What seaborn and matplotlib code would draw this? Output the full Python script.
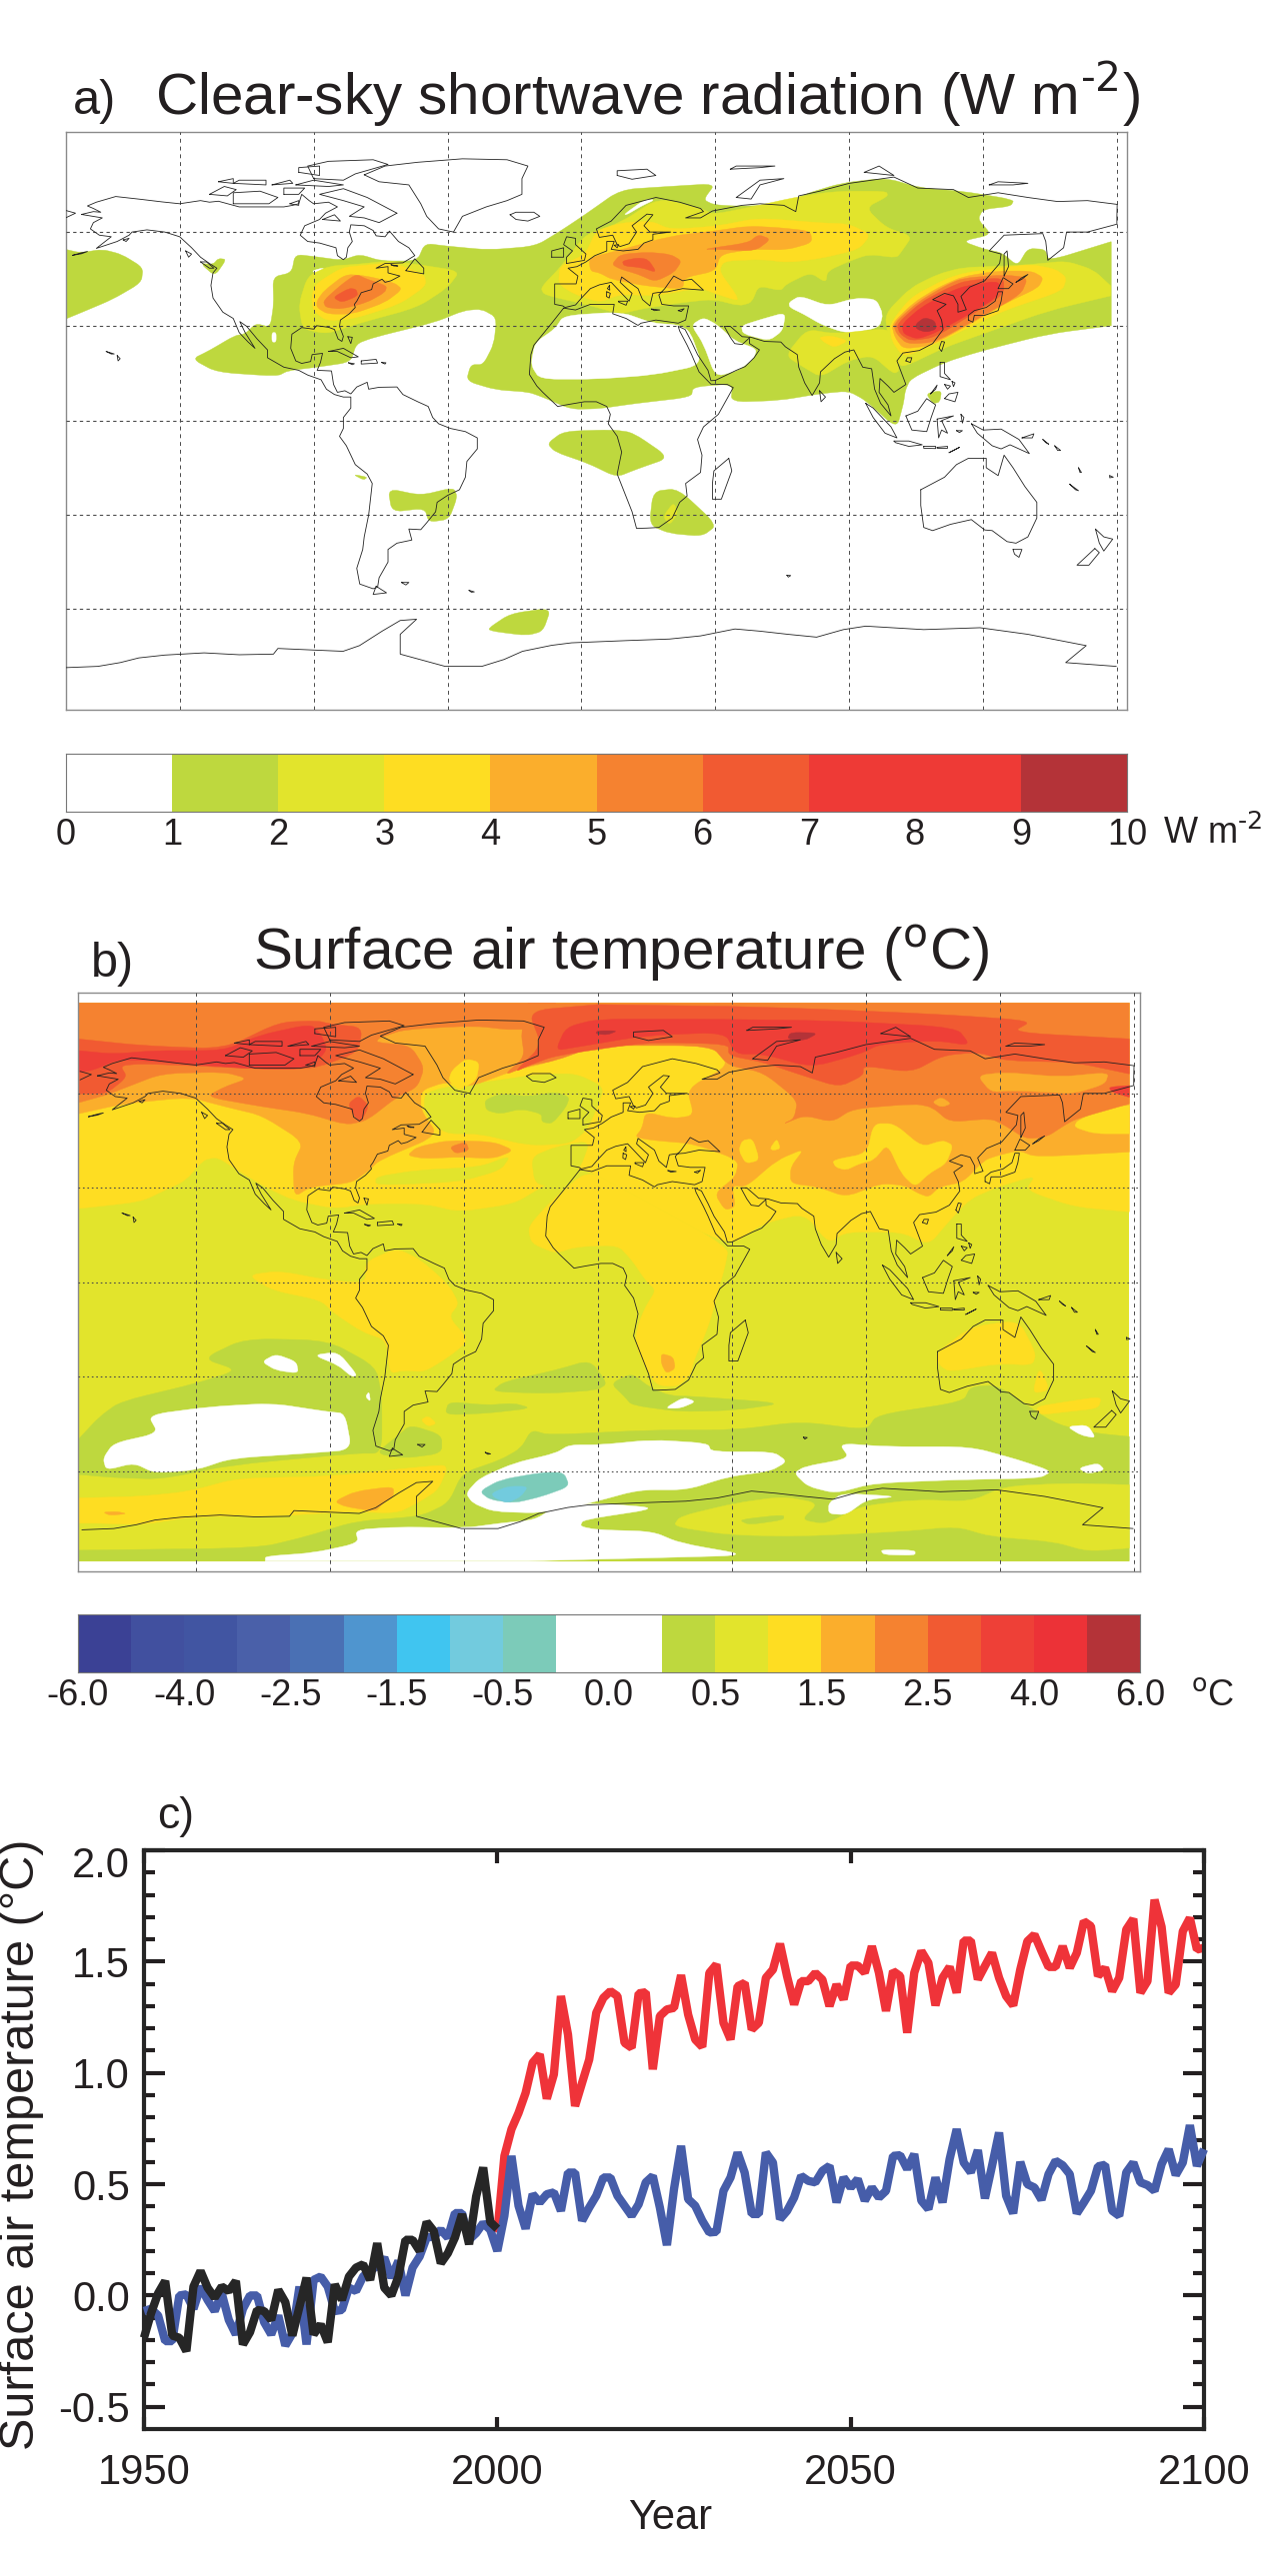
import numpy as np
import matplotlib
matplotlib.use("Agg")
import matplotlib.pyplot as plt
import seaborn as sns
from matplotlib.colors import ListedColormap
from matplotlib.patches import PathPatch
from matplotlib.path import Path
from matplotlib.transforms import ScaledTranslation

# colour bars
SW_COLORS = ["#FFFFFF", "#BED83E", "#E2E42C", "#FEDD22", "#FBAE2C", "#F58230", "#F15A32", "#EE3A36", "#EE3A36", "#B43338"]
SW_TICKS = ["0", "1", "2", "3", "4", "5", "6", "7", "8", "9", "10"]
T_COLORS = ["#3B4195", "#41509F", "#4155A2", "#4A60A9", "#4A70B4", "#4F95CF", "#40C5F0", "#72CBDE", "#7CCBB9", "#FFFFFF",
            "#FFFFFF", "#BED83E", "#E2E42C", "#FEDD22", "#FBAE2C", "#F58230", "#F15A32", "#EE4037", "#EC3237", "#B43338"]
T_TICKS = ["-6.0", "", "-4.0", "", "-2.5", "", "-1.5", "", "-0.5", "", "0.0", "", "0.5", "", "1.5", "", "2.5", "", "4.0", "", "6.0"]

# time series
YEARS = list(range(1950, 2101))
BLACK = [-0.19, -0.08, 0.01, 0.065, -0.18, -0.19, -0.25, 0.04, 0.11, 0.035, -0.01, 0.04, 0.02, 0.065, -0.22, -0.165, -0.065,
         -0.07, -0.11, 0.025, -0.03, -0.18, -0.05, 0.08, -0.175, -0.13, -0.21, 0.05, -0.02, 0.085, 0.125, 0.14, 0.07, 0.235,
         0.035, 0.0, 0.085, 0.25, 0.25, 0.2, 0.33, 0.29, 0.145, 0.19, 0.26, 0.365, 0.23, 0.445, 0.575, 0.33, 0.3]
BLUE = [-0.07, -0.06, -0.09, -0.205, -0.205, 0.0, 0.005, -0.06, 0.04, -0.02, -0.07, 0.01, -0.11, -0.175, -0.06, 0.0, 0.0,
        -0.12, -0.175, -0.09, -0.225, -0.17, 0.04, -0.22, 0.07, 0.085, 0.04, -0.07, -0.065, 0.035, 0.02, 0.085, 0.115, 0.13,
        0.17, 0.08, 0.155, 0.0, 0.125, 0.175, 0.26, 0.265, 0.295, 0.26, 0.37, 0.37, 0.25, 0.28, 0.325, 0.295, 0.2,
        0.358, 0.627, 0.403, 0.30, 0.455, 0.418, 0.455, 0.463, 0.38, 0.552, 0.552, 0.336, 0.395, 0.448, 0.53, 0.53, 0.448,
        0.403, 0.358, 0.41, 0.508, 0.537, 0.395, 0.226, 0.478, 0.672, 0.433, 0.403, 0.336, 0.283, 0.286, 0.47, 0.53, 0.642,
        0.552, 0.366, 0.366, 0.642, 0.597, 0.343, 0.38, 0.44, 0.537, 0.515, 0.508, 0.56, 0.582, 0.418, 0.53,
        0.485, 0.523, 0.426, 0.485, 0.44, 0.47, 0.627, 0.63, 0.568, 0.635, 0.426, 0.388, 0.53, 0.418, 0.612, 0.747, 0.597,
        0.553, 0.653, 0.436, 0.582, 0.732, 0.448, 0.369, 0.60, 0.50, 0.485, 0.43, 0.545, 0.605, 0.585, 0.545, 0.369, 0.418,
        0.47, 0.58, 0.587, 0.381, 0.358, 0.553, 0.597, 0.508, 0.496, 0.47, 0.59, 0.657, 0.541, 0.597, 0.765, 0.582, 0.657]
RED = [0.283, 0.627, 0.747, 0.82, 0.91, 1.046, 1.083, 0.884, 0.993, 1.345, 1.172, 0.851, 0.956, 1.06, 1.27, 1.337, 1.367,
       1.345, 1.135, 1.113, 1.357, 1.362, 1.016, 1.255, 1.285, 1.292, 1.439, 1.262, 1.15, 1.117, 1.449, 1.487, 1.225, 1.15,
       1.389, 1.404, 1.195, 1.225, 1.427, 1.464, 1.58, 1.434, 1.307, 1.412, 1.412, 1.449, 1.419, 1.30, 1.397, 1.33,
       1.482, 1.482, 1.45, 1.569, 1.45, 1.278, 1.457, 1.435, 1.18, 1.45, 1.547, 1.494, 1.303, 1.427, 1.476, 1.36, 1.594,
       1.594, 1.42, 1.48, 1.539, 1.427, 1.345, 1.303, 1.464, 1.591, 1.621, 1.547, 1.476, 1.476, 1.569, 1.472, 1.539, 1.681,
       1.659, 1.435, 1.472, 1.367, 1.427, 1.644, 1.692, 1.36, 1.412, 1.778, 1.656, 1.36, 1.397, 1.636, 1.696, 1.554, 1.562]

# coastlines, lon/lat
COAST_AMERICAS = [(-168, 65.6), (-164, 66.5), (-161.5, 66.3), (-164, 67.5), (-166, 68.3), (-163, 69.5), (-156.5, 71.3), (-148, 70.4), (-141, 69.6), (-135, 69), (-128, 70),
    (-125, 69.5), (-122, 69.8), (-115, 68), (-108, 68), (-100, 68), (-97, 68.5), (-95, 69), (-94, 72), (-91.5, 70), (-90, 69), (-85, 69.5), (-82, 68), (-86, 66), (-88, 64),
    (-93, 62), (-94.5, 59), (-92, 57), (-88, 56.5), (-82.5, 55), (-82, 52.5), (-80, 51.2), (-79, 52), (-78.5, 55), (-77, 57), (-78, 60),
    (-77.5, 62.3), (-73, 62), (-70, 60.5), (-69, 58.8), (-66, 58.5), (-64.5, 60.3), (-61.5, 57), (-58, 55), (-56, 52.5), (-60, 50.2),
    (-66, 50), (-69, 48.5), (-65, 49), (-65, 47), (-61, 46), (-64, 44.5), (-66, 44), (-67, 45), (-70, 43.5), (-70.5, 41.7), (-74, 40.7),
    (-75.5, 38), (-76.3, 37), (-76, 36), (-78, 34), (-81, 32), (-81.3, 30), (-80, 26.8), (-80.5, 25.2), (-81.8, 26), (-83, 29), (-85, 29.7),
    (-89, 30.2), (-90, 29.1), (-94, 29.6), (-97.3, 27.5), (-97.7, 23), (-96, 19), (-94, 18.2), (-91, 18.8), (-90.5, 21), (-87, 21.4),
    (-87.7, 18.5), (-88.8, 16), (-84, 15.8), (-83.3, 11.5), (-82, 9), (-79.5, 9.5), (-77.5, 8.5), (-75.5, 10.7), (-72, 12.2), (-71.5, 10), (-68, 10.6),
    (-62, 10.7), (-60, 8.3), (-55, 6), (-51.5, 4.5), (-50, 1), (-48, -1), (-44, -2.5), (-39, -3.5), (-35, -5.5), (-35, -9), (-38.5, -13), (-39, -18),
    (-41, -22), (-45, -23.8), (-48.5, -26), (-49, -29), (-52, -32.5), (-54, -34.7), (-58, -34.5), (-57, -38), (-62, -39), (-65, -41),
    (-65, -45), (-68, -50), (-68.5, -53), (-70, -53.5), (-74.5, -52), (-75.5, -47), (-73.5, -41), (-73, -37), (-71.5, -30),
    (-70.3, -20), (-72, -17), (-76, -14), (-79, -8), (-81.3, -5), (-80, -2.5), (-80, 1), (-77.5, 4), (-77.5, 7.5), (-80, 7.5), (-83, 8.3),
    (-85.7, 10), (-87.5, 13), (-92, 14.5), (-95, 16), (-100, 17), (-105.5, 20), (-105.5, 22.5), (-109, 26), (-112.5, 30), (-114.8, 31.5),
    (-113, 28), (-109.7, 23), (-112, 25), (-115, 28), (-117, 32.5), (-120.5, 34.5), (-123.8, 39), (-124.5, 43), (-123.8, 47), (-122.5, 48.5),
    (-125, 50), (-128, 52), (-131, 55), (-135, 58.5), (-140, 60), (-146, 60.7), (-151, 60), (-152, 59), (-156, 57), (-163, 54.8), (-158, 58.5),
    (-162, 59), (-165, 61), (-164, 63), (-161, 64.5), (-168, 65.6)]
COAST_AFROEURASIA = [(-6, 35.8), (-10, 31), (-16, 24), (-17, 21), (-17.5, 14.7), (-15, 11), (-13, 9), (-8, 4.5), (-4, 5.2), (1, 6), (5, 6), (8.5, 4.5),
    (9.7, 2), (9, -1), (12, -5), (13.5, -10), (12, -17), (14.5, -23), (17, -29), (18.5, -34.3), (22, -34.2), (26, -34), (30.5, -31), (33, -26),
    (35.5, -24), (35, -20), (40, -16.5), (40.5, -11), (39, -6), (41, -2), (46, 2), (51, 10.5), (49, 11.5), (43.5, 11.6), (39.5, 15.5), (37, 21),
    (35.5, 24), (33, 28.5), (32.5, 30), (34.8, 29), (37, 25), (39, 21), (42.5, 16), (43.5, 12.7), (45, 12.8), (52, 16), (55, 17.2), (58, 20),
    (59.8, 22.5), (56.5, 24.5), (56.4, 26.3), (54, 24.2), (51.5, 24.5), (50, 26.5), (48, 30), (50, 30), (54, 26.7), (57, 26.5), (61.5, 25.2),
    (67, 25), (68.5, 23.5), (72.5, 21), (73, 17), (75, 12), (77.5, 8), (80, 12), (80.3, 15.5), (85, 19.7), (88.5, 21.8), (91.5, 22.5), (94.5, 17),
    (97.5, 16.5), (98.5, 10), (100.5, 5.5), (104, 1.5), (103, 5), (100, 9), (100.3, 13.4), (103, 11), (105, 9), (109, 11.5), (106, 19), (108, 21.5),
    (113.5, 22.3), (118, 24.5), (121.5, 29), (121, 32), (119.5, 35), (122.5, 37), (118, 38.5), (122, 40.5), (125, 39.7), (126.5, 37), (126.5, 34.5),
    (129.3, 35.3), (127.5, 39.5), (130.5, 42.5), (135.5, 44.5), (140.5, 50), (141, 53), (137, 54), (142, 59), (155, 59.5), (156, 57), (156.7, 51),
    (162, 55), (163, 60), (170, 60), (179.9, 62.5), (179.9, 65), (180, 68.8), (170, 70), (160, 69.7), (150, 71), (140, 72.5), (130, 71), (125, 73.5),
    (113, 74), (105, 77.5), (90, 75.5), (80, 73), (73, 71.5), (72, 66.5), (68, 68.5), (60, 69), (54, 68.5), (44, 66.7), (40, 64.5), (35, 64.5),
    (41, 66.5), (40, 67.5), (33, 69.5), (25, 71), (15, 68.5), (10, 63.5), (5, 61), (6, 58.3), (10.5, 59), (12, 56), (13, 55.4), (16, 56.3), (18.5, 60),
    (17, 62), (22, 65.7), (24, 65.5), (21, 62), (23, 60), (30, 60), (24, 59.3), (24, 57.5), (21, 56.5), (19, 54.5), (14, 54), (10, 54.5), (11, 57),
    (8.5, 57), (8.5, 54), (4.5, 52.5), (1.5, 50.5), (-1.5, 49), (-4.5, 48.5), (-1.2, 46), (-1.8, 43.5), (-9, 43.5), (-9, 37), (-6.3, 36.5), (-5.5, 36),
    (-2, 36.8), (0, 39), (3, 42), (6, 43.2), (10, 44), (12.5, 41.5), (16, 38), (17, 40.5), (13, 44), (13.5, 45.7), (19, 42), (20.5, 38.5), (23, 36.5),
    (24, 40.5), (26, 40.8), (29, 41), (34, 42), (41, 41.5), (37, 45), (34, 44.5), (31, 46), (28, 42), (26, 40), (27, 37), (31, 36.5), (36, 36.5),
    (35, 32), (32.5, 31), (25, 32), (20, 31), (19, 30.3), (15, 32.5), (10.5, 34), (11, 37), (3, 37), (-2, 35.2), (-6, 35.8)]
COAST_ANTARCTICA = [(-173.2, -78.6), (-162.5, -78.2), (-155, -77), (-148.7, -75.5), (-140, -74.6), (-126.8, -73.9), (-115, -74.5), (-103.5, -74.3), (-102, -72.5), (-90, -73), (-80.1, -73.4), (-74.6, -71.6),
    (-67, -67), (-60.9, -63.6), (-55.4, -63.2), (-60.9, -68), (-60.9, -74.3), (-45.8, -78.2), (-33.5, -78.2), (-26, -76), (-19.8, -73.4), (-10, -71.5), (-3.3, -70.7), (15, -70), (29.6, -69.5),
    (40, -68.5), (51.6, -66.3), (60, -67), (69.4, -68), (79, -68.9), (88, -66.5), (95.5, -65.4), (115, -66.5), (133.9, -65.9), (150, -68), (169.6, -71.6), (162.7, -77), (179.7, -78.2)]
COAST_ISLANDS = [
    [(-73, 78.2), (-66, 81), (-55, 82.2), (-40, 83.3), (-25, 83), (-18, 81), (-20, 77), (-20, 72), (-25, 70), (-32, 68), (-40, 65), (-43, 60), (-48, 61), (-52, 65), (-54, 69), (-58, 75), (-68, 76), (-73, 78.2)],
    [(-62, 66), (-68, 63), (-73, 64.5), (-78, 65), (-73, 68), (-80, 70), (-88, 72), (-80, 73.8), (-72, 71), (-67, 68.5), (-62, 66)],
    [(-90, 77), (-80, 76.5), (-76, 78.5), (-65, 81.5), (-70, 83), (-85, 82.5), (-92, 81), (-90, 77)],
    [(-117, 69), (-105, 69), (-102, 71), (-108, 73), (-117, 72.5), (-117, 69)],
    [(-125, 72), (-119, 71.5), (-116, 73.5), (-120, 74.5), (-125, 72)],
    [(-96, 75), (-85, 74.5), (-80, 75), (-90, 76.5), (-96, 75)],
    [(-117, 75.5), (-106, 75), (-106, 76.5), (-115, 76.5), (-117, 75.5)],
    [(-87, 64), (-81, 63.5), (-83, 65.5), (-87, 64)],
    [(-100, 72), (-95, 72), (-93, 74), (-100, 74), (-100, 72)],
    [(-98, 69), (-95, 68.5), (-95, 70), (-98, 69)],
    [(-95, 79), (-88, 78), (-88, 81), (-95, 80.5), (-95, 79)],
    [(-122, 76), (-117, 75.5), (-117, 77), (-122, 76)],
    [(-104, 75), (-97, 75.5), (-98, 76.5), (-104, 75)],
    [(-128, 50.5), (-125, 48.5), (-123.5, 48.5), (-126, 50.5), (-128, 50.5)],
    [(-133, 54), (-131, 53), (-132, 52), (-133, 54)],
    [(-154, 57.5), (-152, 58), (-153, 57), (-154, 57.5)],
    [(-171, 52.6), (-168, 53.4), (-166, 53.8), (-168, 53.1), (-171, 52.6)],
    [(-64, 49.6), (-61.7, 49.2), (-63, 49.2), (-64, 49.6)],
    [(-156, 20.7), (-155, 19.7), (-155.7, 19), (-156, 20.7)],
    [(-159.7, 22), (-158, 21.5), (-157, 21.2), (-158, 21.2), (-159.7, 22)],
    [(-78.3, 18.4), (-76.3, 18.1), (-77, 17.8), (-78.3, 18.4)],
    [(-78.5, 26.7), (-77, 26.5), (-77.5, 24.5), (-78.5, 26.7)],
    [(-67.2, 18.5), (-65.7, 18.4), (-66, 18), (-67.2, 18.5)],
    [(-60.5, -51.5), (-58, -51.5), (-59, -52.3), (-60.5, -51.5)],
    [(-69, -52.7), (-65.5, -54.8), (-70, -55.3), (-69, -52.7)],
    [(-37.8, -54), (-36, -54.5), (-37, -54.6), (-37.8, -54)],
    [(-59, 47.7), (-53, 46.7), (-53, 48.5), (-56, 51.5), (-59, 47.7)],
    [(-24, 65.5), (-22, 64), (-18, 63.5), (-14, 65), (-16, 66.3), (-22, 66.3), (-24, 65.5)],
    [(-85, 22), (-80, 23), (-75, 20.3), (-77.5, 20), (-82, 22), (-85, 22)],
    [(-74, 19), (-69, 19.5), (-68.5, 18.3), (-74, 18), (-74, 19)],
    [(-5, 50), (1, 51), (1.5, 53), (-2, 56), (-2, 58), (-5, 58.5), (-6, 56), (-3, 54), (-5, 52), (-5, 50)],
    [(-10, 52), (-6, 52), (-6, 55), (-10, 54), (-10, 52)],
    [(8.5, 41), (9.7, 40.5), (9.3, 39), (8.4, 39.5), (8.5, 41)],
    [(9.4, 43), (9.5, 41.5), (8.7, 42), (9.4, 43)],
    [(12.5, 38), (15.5, 38), (15, 36.7), (12.5, 37.7), (12.5, 38)],
    [(23.5, 35.5), (26.3, 35.2), (24.5, 35), (23.5, 35.5)],
    [(32.5, 35), (34.5, 35.6), (33.5, 34.7), (32.5, 35)],
    [(11, 55.8), (12.5, 56), (12, 55), (11, 55.8)],
    [(49.5, -12), (50.5, -16), (47, -25), (44, -25), (44, -20), (44.5, -16), (49.5, -12)],
    [(69, -49.2), (70.3, -49.3), (69.5, -49.8), (69, -49.2)],
    [(80, 9.5), (82, 7.5), (80.5, 6), (80, 9.5)],
    [(130, 32), (131.5, 31.3), (132, 33.5), (135.5, 33.5), (140, 35), (141, 38), (141.5, 41), (140, 41), (139, 38), (136, 36), (132, 35), (130, 33.5), (130, 32)],
    [(140, 42), (143.5, 42), (145, 43.5), (141.7, 45.5), (140, 42)],
    [(142, 46), (143.5, 49), (143, 54), (142, 53), (142, 46)],
    [(146, 44), (148, 45.5), (150, 46.5), (148, 45), (146, 44)],
    [(120.2, 23), (121, 22), (122, 25), (121, 25.2), (120.2, 23)],
    [(109, 19), (110.5, 18.5), (111, 20), (109.5, 20), (109, 19)],
    [(120.5, 18.5), (122, 18.5), (122, 15), (124, 13), (120.5, 14), (120.5, 18.5)],
    [(122, 7), (125.5, 6), (126.5, 9), (123.5, 8.5), (122, 7)],
    [(117.3, 8.5), (119.5, 11.3), (119, 10), (117.3, 8.5)],
    [(122, 11.5), (123, 10), (124, 11), (122, 11.5)],
    [(124.5, 12.5), (125.5, 12), (125, 10.8), (124.5, 12.5)],
    [(109, 1.5), (113, 3), (116, 7), (119, 5), (117.5, 1), (116, -3.5), (111, -3), (109, 1.5)],
    [(95.5, 5.5), (98, 4), (104, -2), (106, -5.5), (102, -4), (98, 1), (95.5, 5.5)],
    [(105, -6.5), (110, -6.5), (114.5, -7.7), (110, -8.2), (105.5, -7), (105, -6.5)],
    [(115, -8.2), (119, -8.2), (119, -8.9), (115, -8.8), (115, -8.2)],
    [(119.5, -8.5), (123, -8.2), (123, -8.8), (119.5, -8.8), (119.5, -8.5)],
    [(123.5, -10.2), (127, -8.5), (125, -9.5), (123.5, -10.2)],
    [(119.5, 0.5), (125, 1.5), (121, 0), (123, -4), (121, -3), (120, -5.5), (119.5, 0.5)],
    [(127.5, 2), (128.5, 1), (128, -0.8), (127.5, 2)],
    [(126, -3.2), (128, -3.2), (127, -3.8), (126, -3.2)],
    [(131, -1), (135, -3), (141, -2.7), (147, -6), (150.5, -10.5), (144, -7.7), (141, -9), (138, -8), (133, -4), (131, -1)],
    [(148, -5.5), (152, -4.2), (151.5, -5.5), (148, -5.5)],
    [(155, -6), (157, -7.5), (156, -7), (155, -6)],
    [(159, -8), (161, -9.5), (160, -9.5), (159, -8)],
    [(164, -20.2), (167, -22.3), (166, -22), (164, -20.2)],
    [(167, -15), (168, -16.5), (167.5, -16.5), (167, -15)],
    [(177.5, -17.5), (178.7, -18), (177.5, -18.2), (177.5, -17.5)],
    [(114, -22), (122, -18), (126, -14), (130, -12), (136, -12), (136, -15), (140, -17.5), (142, -11), (145, -15), (149, -21), (153, -26), (153, -31), (150, -37), (146, -39), (143, -38.5), (138, -35), (135.5, -34.8), (131, -31.5), (124, -33), (118, -35), (115, -34), (114, -27), (114, -22)],
    [(145, -41), (148, -41), (147, -43.5), (145.5, -42.5), (145, -41)],
    [(172.7, -34.5), (175.5, -37), (178.5, -37.7), (175.5, -41.5), (174, -39), (172.7, -34.5)],
    [(172.5, -40.7), (174, -42), (170.5, -46), (166.5, -46), (172.5, -40.7)],
    [(52, 71), (57, 70.5), (60, 75), (68, 77), (60, 76.5), (52, 71)],
    [(12, 78), (17, 76.8), (25, 78), (22, 80), (12, 79.5), (12, 78)],
    [(50, 80), (60, 80.5), (65, 81), (52, 81), (50, 80)],
    [(95, 79), (105, 78), (100, 81), (95, 79)],
    [(137, 75), (145, 75), (150, 75.5), (140, 76), (137, 75)],
    [(-173.8, 64.3), (-170, 66), (-173.8, 67)],
]

# panel a contours, lon/lat of each filled region
SW_L1 = [
    [(-173.4, 54.5), (-168.4, 53.4), (-161, 54.5), (-154.5, 52.9), (-147.3, 48.7), (-147.9, 43.9), (-157.5, 38.6), (-168, 34.4), (-173.4, 32.3)],
    [(-128, 50), (-123.8, 49.7), (-122, 51.6), (-119.3, 51.3), (-123.2, 46)],
    [(-130.8, 19.6), (-125, 22.3), (-116.6, 27), (-113, 27.6), (-109.4, 30.9), (-104.6, 29.7), (-103.4, 37), (-103.7, 45.7), (-97.4, 47.1),
     (-96.2, 52.9), (-88.9, 52.1), (-80.5, 51), (-74.5, 52.9), (-67.3, 50.8), (-55.2, 50.8), (-52.6, 56.4), (-45, 55.5), (-31.2, 54.3),
     (-15.5, 55.5), (-7.1, 60.3), (1.3, 65.6), (13.1, 73.5), (29.3, 74.5), (45, 75.4), (41, 70.3), (44.4, 68.7), (52.6, 68.2), (68.8, 68.7),
     (74.6, 71.9), (87.4, 75.6), (102.4, 77.2), (114, 74), (127.9, 73), (145.4, 70.3), (144.2, 68.2), (134.9, 67.2), (133.2, 64), (137.8, 59.2),
     (127.9, 57.1), (135.5, 54.5), (141.3, 53.4), (146.5, 49.2), (150, 54.8), (155.8, 54.5), (157, 50.8), (177.8, 56.9), (178, 56.9), (178, 30.2), (157, 27.6),
     (134.9, 22.3), (122.2, 18.6), (110.6, 13.3), (108.8, 9.6), (108.2, 5.4), (105.9, -2.5), (95.5, 6.4), (89.7, 9.4), (80.4, 8.6), (66.5, 6.4),
     (50.2, 5.9), (50.8, 11.7), (37.5, 10.7), (36.9, 7.5), (17.7, 5.4), (6.1, 3.8), (-3.5, 3.6), (-13.1, 7.5), (-17.9, 9.1), (-28.8, 9.8),
     (-38.7, 12.6), (-37.2, 17.8), (-33, 17.8), (-29.4, 24.4), (-28.5, 32.8), (-33.6, 35.5), (-39.6, 35), (-49.2, 31.3), (-69.7, 26.5), (-75.7, 24.4),
     (-77.5, 18.6), (-88.9, 17), (-98.6, 15.9), (-102.2, 14.1), (-122.6, 15.4)],
    [(-11.5, -7.3), (-6, -3.4), (10.4, -2.9), (17.3, -3.8), (29.6, -11.8), (18.7, -15.4), (11.8, -18), (2.2, -13.6), (-8.8, -10)],
    [(24.1, -22.5), (32.4, -21.6), (45.6, -33.2), (40.6, -36.8), (29.6, -35.9), (22.8, -33.2)],
    [(-65, -21.6), (-54, -23.8), (-43, -21.3), (-41.7, -24.3), (-44.5, -31.4), (-51.3, -32.3), (-52.7, -27.9), (-63.7, -29.1)],
    [(-76.8, -17.1), (-71.9, -18), (-73.2, -18.9)],
    [(-31.6, -66.3), (-23.9, -61.4), (-10.2, -59.6), (-12.9, -67), (-18.4, -68.4), (-29.4, -67.1)],
]
SW_HOLES = [
    [(-17, 17.7), (-15.6, 24.8), (-8.8, 29.3), (-6, 33.4), (13.2, 34.6), (24, 31), (32.4, 30.5), (36.5, 28.4), (40.6, 17.7), (24, 14.5), (5, 13.2), (-14, 13.2)],
    [(36.9, 30.4), (41, 32.8), (45.6, 30.5), (51.4, 25.4), (58.9, 22.8), (57.8, 19.6), (52.6, 15.9), (45, 14), (41, 24.4)],
    [(53.7, 30.2), (60.7, 32.3), (68.6, 34.4), (67.6, 28.6), (63, 25.4), (54.3, 27.6)],
    [(69.7, 37.6), (73.4, 39.7), (82.7, 36.5), (92, 39), (99, 38.6), (101.3, 33.9), (100.1, 29.7), (90.8, 27.8), (86.2, 28.6), (80.4, 30.7), (74.6, 33.9), (70, 36)],
    [(-90.7, 47.6), (-86.5, 48.7), (-85.3, 45.5), (-88.3, 46.6)],
    [(14.3, 65.6), (21.2, 70.3), (24.7, 70.3), (20, 68.2), (15.4, 65.6)],
    [(59, 44), (60.4, 44), (60.4, 46), (59, 46)],
    [(-83.5, 44), (-82, 44), (-82, 46.5), (-83.5, 46.5)],
    [(-104, 25), (-102.6, 25), (-102.6, 28), (-104, 28)],
]
SW_L2 = [
    [(-95, 37), (-92, 46), (-84.7, 49.2), (-75.7, 49.7), (-64.9, 50.8), (-55.2, 49.7), (-40.8, 47.6), (-45, 42.3), (-55.2, 36), (-75.7, 30.7), (-85.3, 27.6), (-93.7, 29.1)],
    [(-13.7, 42.3), (-7.7, 48.2), (-4.7, 51.8), (1.3, 59.2), (13.1, 63), (25.9, 70.9), (41, 67.2), (44.4, 65.6), (60.7, 68.7), (71.1, 70.9), (85, 73), (102.4, 73),
     (103, 71.4), (95.5, 67.7), (102.4, 61.4), (111.1, 58.7), (107.7, 54), (105.9, 51.8), (96.6, 52.9), (90.2, 50.8), (82.7, 47.6), (82.1, 43.9), (76.9, 47.1),
     (68.8, 43.4), (67, 41.3), (59.5, 42.9), (57.2, 37.6), (53.1, 36.5), (44.4, 38.6), (34, 37.6), (20, 35.5), (13.1, 33.9), (1.3, 37), (-12.5, 40)],
    [(102, 34), (110.6, 42.3), (119.8, 46.6), (128, 48.7), (141.9, 49.2), (151.2, 49.7), (162.8, 50.8), (172, 48), (177.8, 42.9), (177.8, 39.7), (157, 35), (134.9, 27.6), (122.2, 23.3), (108.2, 17), (105.9, 18.6), (103, 26.5)],
    [(68.5, 20.7), (75.7, 29.1), (85, 27.6), (100.1, 29.1), (103.6, 28.6), (107, 15.9), (104.8, 14.9), (97.8, 20.7), (89.7, 19.1), (80.4, 13.8), (74.6, 17)],
    [(27.4, -30.5), (31, -26), (32.4, -29.6), (29.6, -33.2)],
]
SW_L3 = [
    [(-90.7, 39.2), (-89.5, 43.4), (-80.5, 48.7), (-72.1, 49.5), (-63.7, 50.3), (-52.8, 46.6), (-52.2, 42.9), (-61.2, 37), (-76.9, 32.3), (-85.8, 31.8), (-90.1, 35)],
    [(-7.7, 43.4), (-7.3, 49.2), (1.3, 52.9), (4.9, 60.3), (13.1, 62.9), (23.5, 63.5), (29.9, 60.8), (45.6, 61.9), (59.5, 64.5), (80.4, 62.9), (89.7, 62.6), (97.2, 59.2),
     (93.2, 54.5), (80.4, 51.6), (69.4, 50.3), (60.7, 51.3), (47.9, 50.8), (46.2, 47.6), (51.9, 40.2), (52.6, 38.1), (45.6, 40.2), (39.8, 42.3), (24.7, 39.7), (13.1, 40.2), (6.1, 37.6), (-2.3, 40.2)],
    [(103.6, 30.7), (110.6, 39.2), (122.2, 45), (129.1, 47.1), (141.9, 48.7), (151.2, 49.7), (159.3, 48.2), (163, 45.5), (161.6, 41.3), (141.9, 35), (131.4, 30.2), (116.4, 23.3), (108.2, 20.2), (104.2, 25.4)],
    [(79.8, 26.5), (83.9, 27), (89.7, 25.4), (85, 23.3), (81.6, 24.9)],
]
SW_L4 = [
    [(-88.9, 38.1), (-86.5, 41.3), (-79.3, 46.6), (-72.1, 46), (-63, 43.9), (-60.2, 41.8), (-66, 37.6), (-76.9, 33.9), (-85.3, 33.9), (-88.9, 36)],
    [(3, 47.6), (2.5, 51.8), (11.9, 54), (29.9, 58.7), (44.4, 60.3), (56, 61.9), (66.5, 61.4), (76.9, 60.3), (77.5, 56.6), (68.8, 54.3), (57.2, 54.5), (46.7, 52.9), (45, 47.6), (34.6, 45.5), (34, 41.8), (21.2, 42.9), (10, 45), (6.1, 47)],
    [(104.2, 30.7), (111.7, 37.6), (119.8, 42.3), (128, 45.8), (139.6, 47.6), (151.2, 47.6), (155.2, 45.5), (153.5, 42.3), (143, 37.6), (132.6, 31.8), (117.5, 23.9), (108.2, 22.8), (105.3, 26.5)],
]
SW_L5 = [
    [(-86.8, 38.1), (-80.5, 43.4), (-75.7, 46.6), (-72.1, 45), (-65.4, 42.9), (-66, 40.8), (-72.1, 37.6), (-80.5, 35.5), (-85.9, 36)],
    [(10.2, 49.7), (13.1, 52.9), (22.4, 53.6), (29.9, 52.9), (33.7, 50.8), (31.1, 47.1), (24.7, 44.2), (18.9, 46.6), (13.1, 48.2)],
    [(40.9, 54.5), (56, 56.6), (59.5, 59.2), (63.6, 57.7), (58.4, 54), (45.6, 54.5)],
    [(104.8, 30.7), (112.9, 37.6), (122.2, 42.9), (128, 45.3), (141.9, 46.4), (150, 45.5), (147.7, 40.2), (133.8, 32.8), (118.7, 24.9), (109.4, 24.4), (105.9, 27.6)],
]
SW_L6 = [
    [(-83.5, 39.2), (-78.1, 42.1), (-75.7, 41.8), (-75.1, 39.7), (-80.5, 37.6)],
    [(13.7, 50.8), (18.9, 51.8), (22.4, 51.3), (25.3, 47.1), (20, 48.7), (14.3, 49.2)],
    [(105.9, 30.7), (114, 37.6), (123.3, 42.3), (129.1, 44.5), (141.9, 45.5), (141.9, 40.2), (131.4, 33.9), (118.7, 26.5), (110.6, 25.4), (107, 27.6)],
]
SW_L7 = [[(107.7, 30.7), (114, 36), (123.3, 40.8), (129.1, 42.9), (140.7, 44.5), (139.6, 39.2), (130.3, 33.9), (119.3, 28.1), (112.9, 25.9), (108.2, 27.6)]]
SW_L9 = [[(112.3, 30.7), (115.2, 32.8), (118.7, 31.8), (119.3, 29.1), (115.8, 28.1), (112.6, 29.1)]]
SW_GREEN_TOP = [[(115.8, 8.6), (121, 9.6), (120.4, 5.9), (118.1, 5.4)]]

# panel b contours
T_EXTENT = [(-174.5, 88.7), (178.4, 88.7), (178.4, -88.5), (-174.5, -88.5)]
T_L3_NORTH = [(-174.5, 23.4), (-153.4, 25.6), (-145.2, 29.3), (-138.3, 32.4), (-132.5, 38.8), (-127.8, 39.8), (-120.9, 35.6), (-111.6, 30.3), (-102.3, 26.1),
    (-88.4, 23.4), (-76.8, 25), (-58.2, 25), (-46.6, 22.4), (-28.1, 25), (-18.8, 30.3), (-8.4, 36.1), (-3.7, 35.6), (9, 29.3), (43.9, 11.3), (55.5, 18.7),
    (69.4, 21.9), (77.5, 12.4), (83.3, 16), (101.9, 16), (111.1, 11.8), (118.1, 19.7), (125.1, 26.6), (134.3, 30.3), (147.1, 34), (143.6, 29.3), (159.9, 24),
    (178.4, 22.4), (178.4, 88.7), (-174.5, 88.7)]
T_L3_AFRICA = [(-16.5, 25), (-23.4, 17.6), (-22.3, 12.4), (-14.2, 9.2), (-7.2, 11.3), (6.7, 11.8), (11.4, 7.1), (16, 0.7), (19.5, -2.5), (16, -7.8), (13.7, -13), (12.5, -18.4),
    (14.8, -24.7), (19.5, -32.6), (26.5, -33.2), (31.1, -29.5), (32.3, -24.7), (35.7, -17.3), (38.1, -11), (40.4, -2.5), (42.7, 5), (43.9, 11.3), (9, 29.3), (-3.7, 35.6)]
T_L3_SOUTH_AMERICA = [(-78, 6.5), (-67.5, 10.8), (-59.4, 7.1), (-50.1, -0.8), (-46.6, -6.8), (-50.1, -11), (-43.2, -18.4), (-50.1, -23.7), (-58.2, -28.4), (-65.2, -27.9), (-69.8, -29),
    (-71, -18.4), (-79.1, -15.7), (-88.4, -9.9), (-93, -5.7), (-109.3, -2.5), (-117.4, 2.3), (-107, 3.6), (-90.7, 0.7), (-78, -0.3)]
T_L3_AUSTRALIA = [
    [(113.5, -22.6), (125.1, -14.2), (141.3, -12), (147.1, -22.6), (145.9, -26.3), (134.3, -25.8), (118.1, -28.4), (114.6, -26.3)],
    [(145.9, -35.3), (148.3, -26.8), (151.7, -34.2)],
    [(147.1, -39.5), (157.5, -37.9), (169.1, -36.3), (168, -40), (157.5, -41.1), (148.3, -42.1)],
    [(-59.4, -43.7), (-57, -42.4), (-54.1, -44.8), (-57, -45.8)],
]
T_L2_ATLANTIC = [
    [(-58.2, 59.9), (-51.3, 62), (-37.4, 63.6), (-18.8, 66.2), (-7.2, 66.2), (2.1, 62), (-0.2, 55.6), (-3.7, 48.3), (-9.5, 44), (-23.4, 43.5), (-39.7, 47.2), (-51.3, 47.2), (-58.2, 53.5)],
    [(-14.2, 43), (-2.6, 45), (-6, 36.1), (-14.2, 30.3), (-21.1, 31.3), (-22.3, 39.8)],
    [(-74.5, 33.5), (-60.6, 35.6), (-39.7, 36.6), (-29.2, 40.3), (-32.7, 35.6), (-46.6, 31.9), (-74.5, 30.8)],
]
T_L1_ATLANTIC = [[(-38, 57.8), (-32.7, 59.9), (-23.4, 59), (-14.2, 60.4), (-9.5, 58.8), (-10.7, 55.6), (-15.3, 50.4), (-18.8, 50.9), (-18.8, 53.5), (-25.8, 55.1), (-32.7, 53.5), (-37.4, 54.6)]]
T_L4 = [
    [(-174.5, 53.5), (-159.2, 56.7), (-137.1, 58.8), (-124.4, 55.6), (-112.8, 53), (-98.8, 44.6), (-102.3, 37.7), (-101.9, 27.1), (-96.5, 30.3), (-82.6, 31.6), (-76.8, 35.6), (-73.3, 38.8),
     (-53.6, 46.7), (-59.4, 54.6), (-59.4, 60.9), (-51.3, 63.6), (-43.2, 62), (-28.1, 67.3), (-16.5, 69.9), (-14.2, 71.5), (-14.2, 88.7), (-174.5, 88.7)],
    [(-60.6, 43), (-50.1, 45.1), (-35, 44.6), (-28.1, 41.9), (-35, 39.3), (-46.6, 39.8), (-58.2, 39.3), (-64, 40.3)],
    [(39.2, 74.7), (43.9, 68.8), (29.9, 61.5), (32.3, 53), (25.3, 52), (16, 54.1), (14.8, 48.8), (12.5, 46.1), (18.3, 45.1), (32.3, 44), (47.3, 38.8), (46.2, 33.5), (39.2, 28.2),
     (42.7, 22.9), (46.2, 24), (45, 30.8), (49.7, 30.3), (60.1, 38.8), (69.4, 42.5), (64.7, 36.6), (64.7, 31.4), (74, 30.3), (83.3, 27.1), (94.9, 31.4), (103, 30.8), (107.7, 28.2),
     (111.1, 27.1), (114.6, 30.3), (122.7, 31.9), (129.7, 38.8), (134.3, 40.3), (141.3, 41.9), (147.1, 39.8), (178.4, 41.4), (178.4, 88.7), (39.2, 88.7)],
    [(21.3, -22.6), (25.3, -23.7), (26, -27.4), (23, -28.9), (21.3, -25.8)],
]
T_L3_PATCHES = [
    [(48.5, 45.1), (52, 45.6), (54.3, 38.8), (49.7, 37.7), (47.3, 41.9)],
    [(57.8, 42.5), (60.1, 45.6), (61.3, 42.5), (58.9, 41.9)],
    [(78.7, 38.8), (90.3, 40.9), (92.6, 50.4), (99.5, 50.4), (108.8, 43), (115.8, 45.1), (119.3, 43.5), (116.9, 37.7), (111.1, 34.5), (106.5, 30.3), (101.9, 34.5), (97.2, 44), (92.6, 38.8), (87.9, 37.7), (83.3, 35.6), (79.8, 36.6)],
    [(161, 51.4), (171.5, 55.6), (178.4, 56.2), (178.4, 47.2), (166.8, 47.2), (159.9, 49.3)],
]
T_L5 = [
    [(-174.5, 88.7), (-14.2, 88.7), (-14.2, 81.5), (-28, 80), (-41.7, 81.5), (-65, 80.3), (-73.3, 77.7), (-74.5, 76.2), (-62.9, 75.2), (-58.2, 68.2), (-60.6, 62), (-67.5, 58.8),
     (-77.5, 51.4), (-84.5, 50), (-97.7, 53.7), (-112.8, 55.8), (-131.4, 58.9), (-125.5, 62), (-117.4, 64.7), (-125.5, 66.8), (-146.4, 66.3), (-159.2, 61.6), (-165, 59.5), (-174.5, 57)],
    [(-31.6, 65.7), (-23.4, 68.8), (-14.2, 70.4), (-0.2, 75.2), (38.1, 75.2), (43.9, 68.8), (55.5, 66.7), (67.1, 57.8), (65.9, 52), (62, 50.2), (69.4, 53), (78.7, 50.9), (85.6, 55.1), (106.5, 56.7),
     (112.3, 55.6), (118.1, 50.9), (132, 52), (136.7, 49.8), (143.6, 45.6), (150.6, 46.1), (157.5, 50.4), (161, 52), (178.4, 56.7), (178.4, 88.7), (-23.4, 88.7), (-25.8, 79.4), (-24.6, 71.5)],
    [(-49.7, 43), (-44.3, 44.6), (-43.2, 41.9), (-47.8, 40.9)],
]
T_L3_GREENLAND = [[(-49, 67.3), (-44.3, 71), (-39.7, 69.9), (-40.8, 64.1), (-46.6, 60.9), (-50.1, 64.1)]]
T_L4_TOP = [
    [(127.4, 65.7), (136.7, 66.7), (155.2, 65.2), (171.5, 66.7), (170.3, 63), (159.9, 59.9), (150.6, 60.4), (139, 60.9), (132, 60.4)],
    [(112.3, 57.2), (115.3, 58.8), (118.6, 56.7), (115.3, 55.6)],
    [(-166.1, -73), (-161.5, -72.8), (-158, -73.5), (-163.8, -74)],
    [(-88.4, -69.6), (-81.4, -66.4), (-68.6, -64.8), (-68.6, -68), (-72.1, -70.1), (-74.5, -72.8), (-84.9, -71.2)],
]
T_L6 = [
    [(-174.5, 77.3), (-153.4, 75.2), (-125.5, 74.1), (-107, 82.6), (-94.2, 83.1), (-89.6, 82), (-79.1, 81), (-80.3, 73.1), (-95.4, 67.8), (-113.9, 67.8), (-136, 68.8), (-153.4, 69.4), (-160.3, 68.8), (-158, 65.2), (-165, 59.9), (-174.5, 59.9)],
    [(-28.1, 66.7), (-18.8, 75.2), (-23.4, 86.3), (-0.2, 88.2), (55.5, 87.5), (113.5, 85.2), (145.9, 83.1), (139, 79.4), (178.4, 77.3), (178.4, 66.2), (159.9, 69.9), (136.7, 70.4), (127.4, 73.1),
     (115.8, 72), (105.3, 66.7), (89.1, 68.8), (89.1, 65.7), (81, 62), (67.1, 66.2), (55.5, 69.9), (43.9, 72), (43.9, 75.7), (16, 76.2), (-14.2, 72), (-23.4, 68.8)],
    [(-83.8, 56.7), (-80.3, 59.3), (-76.8, 56), (-79.6, 50.9), (-82, 53)],
]
T_L7 = [
    [(-174.5, 73.6), (-162.6, 72.5), (-148.7, 73.6), (-125.5, 73.6), (-113.9, 78.4), (-96.5, 82), (-93, 78.9), (-90.7, 73.6), (-97.7, 67.8), (-115.1, 67.8), (-136, 69.2), (-160.3, 71), (-169.6, 67.3), (-174.5, 66.7)],
    [(-14.2, 73.6), (-10.7, 81), (-0.2, 83.6), (32.3, 83.6), (78.7, 83.1), (120.4, 81), (125.1, 75.2), (113.5, 76.8), (94.9, 75.7), (87.9, 72.5), (71.7, 68.3), (55.5, 72.5), (46.2, 72.5), (42.7, 79.4), (16, 78.4), (-7.2, 74.7)],
    [(171.5, 62), (178.4, 62.5), (178.4, 58.8), (172.6, 60.4)],
]
T_L9 = [
    [(64.7, 79.4), (74, 79.2), (69.4, 76.8), (63.6, 77.3)],
    [(-0.2, 79.9), (6.7, 79.9), (3.2, 78.6), (-0.7, 78.9)],
]
T_L1_SOUTH = [
    [(-132.5, -24.2), (-118.6, -17.9), (-90.7, -18.4), (-74.5, -26.8), (-72.5, -36.3), (-72.5, -54.3), (-81.4, -54.3), (-123.2, -58), (-146.4, -62.5), (-162.6, -62), (-174.5, -61), (-174.5, -50), (-167.3, -42.7), (-160.3, -37.9), (-134.8, -32.1), (-120.9, -27.9)],
    [(-67.5, -49), (-62.9, -45.3), (-52.4, -48.5), (-52.4, -54.3), (-65.2, -55.9), (-74.5, -54.3)],
    [(-35.7, -34.7), (-31.6, -31.6), (-14.2, -27.9), (-2.6, -24.7), (3.2, -32.1), (-0.2, -34.2), (-16.5, -35.3)],
    [(-51.3, -42.1), (-50.1, -37.9), (-37.4, -39), (-28.1, -38.4), (-22.3, -40), (-37.4, -41.6)],
    [(4.4, -32.1), (11.4, -28.9), (17.2, -33.2), (24, -36), (33.4, -36.3), (62.4, -38.4), (46.2, -40.6), (27.6, -41.1), (11.4, -39), (9, -36.3)],
    [(-59.4, -74.3), (-50.1, -70.1), (-45.5, -60.6), (-32.7, -56.4), (-25.8, -52.7), (-22.3, -46.9), (-16.5, -48.5), (18.3, -46.9), (46.2, -46.9), (68.2, -44.2), (90.3, -46.9), (93.7, -42.1),
     (122.7, -37.9), (125.1, -33.2), (134.3, -32.6), (152.9, -44.8), (166.8, -47.9), (178.4, -49), (178.4, -88.5), (-174.5, -88.5), (-174.5, -85.1), (-113.9, -84.4), (-97.7, -80.7), (-81.4, -75.9)],
]
T_L3_SOUTH = [[(-174.5, -68.5), (-153.4, -68), (-137.1, -66.4), (-120.9, -62.2), (-90.7, -61.7), (-58.2, -58.5), (-50.1, -58), (-53.6, -65.9), (-60.6, -70.1), (-67.5, -73.3), (-83.8, -72.8), (-109.3, -74.3), (-134.8, -74.3), (-153.4, -77), (-167.3, -76.5), (-174.5, -76.5)]]
T_L2_SOUTH = [[(27.6, -74.3), (46.2, -70.1), (62.4, -68), (74, -70.1), (68.2, -75.4), (76.4, -76.9), (87.9, -71.2), (106.5, -69), (125.1, -69.6), (136.7, -64.8), (157.5, -63.8), (178.4, -64.3), (178.4, -84.4),
    (164.4, -85.4), (152.9, -82.3), (132, -80.7), (120.4, -77.5), (101.9, -79.1), (67.1, -80.7), (43.9, -80.2), (25.3, -77.5)]]
T_L1_PATCH = [[(47.3, -75.4), (62.4, -73.8), (62.4, -75.4), (50.8, -77)]]
T_WHITE = [
    [(-112.8, -25.2), (-108.1, -22.8), (-101.2, -25.2), (-100.5, -28.9), (-108.1, -27.9)],
    [(-95.4, -23.1), (-87.2, -22.1), (-80.7, -29.5), (-82.6, -30), (-87.2, -26.3)],
    [(-151, -42.1), (-130.2, -39.5), (-109.3, -38.4), (-90.7, -41.1), (-84.9, -41.6), (-82.6, -53.2), (-97.7, -54.3), (-123.2, -55.9), (-134.8, -59.6), (-148.7, -60.6), (-155.7, -57.4), (-165, -59.6), (-166.1, -55.9), (-162.6, -51.1), (-147.6, -47.9)],
    [(-78, -36.3), (-76.8, -34.7), (-76.3, -37.9)],
    [(22.5, -40), (28.8, -36.5), (32.9, -37.9), (27.6, -40)],
    [(-44.3, -67), (-39.7, -62.2), (-28.1, -57.4), (-14.2, -54.3), (-9.5, -51.6), (0.9, -51.6), (18.3, -50), (36.9, -51.1), (38.1, -53.8), (58.9, -53.8), (63.6, -56.9), (57.8, -60), (43.9, -61.7), (29.9, -65.9), (13.7, -65.9), (-2.6, -70.1), (-18.8, -73.3), (-35, -72.8), (-42, -70.1)],
    [(65.9, -60.6), (69.4, -58.5), (84.5, -55.9), (81, -51.1), (97.2, -52.2), (125.1, -52.2), (141.3, -56.4), (152.4, -60), (148.3, -62.2), (120.4, -62.7), (92.6, -63.8), (79.8, -67), (70.5, -64.8)],
    [(77.5, -70.1), (82.1, -67), (100.7, -68), (90.3, -69), (83.3, -73.8), (77.5, -73.5)],
    [(157.5, -45.8), (164.4, -45.3), (167.2, -49.5), (162.1, -48.5)],
    [(161.3, -59), (167.9, -57.4), (170.2, -59.6), (164.4, -60.8)],
    [(94.9, -84.9), (106.5, -85.1), (106.5, -86.7), (96, -86.5)],
    [(-111.6, -87), (-95.4, -85.9), (-80.3, -82.8), (-81.4, -78.6), (-67.5, -77.7), (-44.3, -78), (-32.7, -76.5), (-21.1, -75.4), (-14.2, -71.2), (-0.2, -70.1), (20.6, -71.7), (-4.9, -75.4), (-6, -77.5), (-0.2, -78.6), (18.3, -79.1), (27.6, -82.8), (50.8, -86.7), (18.3, -87.5), (-23.4, -88.5), (-111.6, -88.5)],
]
T_TEAL = [[(-39.7, -66.4), (-32.7, -62.7), (-18.8, -60.4), (-11.4, -60.4), (-9.5, -64.8), (-18.8, -68), (-28.1, -70.1), (-36.2, -69)]]
T_CYAN = [[(-35.7, -67), (-30.3, -64.8), (-23.4, -64.8), (-25.8, -68), (-30.3, -70.1), (-34.6, -68.5)]]

GREEN, LIME, YELLOW, GOLD, ORANGE, TOMATO, RED_FILL, DARK = "#BED83E", "#E2E42C", "#FEDD22", "#FBAE2C", "#F58230", "#F15A32", "#EE3A36", "#B43338"
INK = "#231F20"
WIDTH, HEIGHT = 1280, 2577

sns.set_style("white")
plt.rcParams["font.family"] = ["Liberation Sans Narrow", "Liberation Sans", "DejaVu Sans"]
plt.rcParams["mathtext.fontset"] = "custom"
plt.rcParams["mathtext.rm"] = "Liberation Sans Narrow"
plt.rcParams["mathtext.default"] = "rm"
plt.rcParams["text.color"] = INK
plt.rcParams["axes.labelcolor"] = INK
plt.rcParams["xtick.color"] = INK
plt.rcParams["ytick.color"] = INK


def axes_px(fig, left, top, right, bottom):
    return fig.add_axes([left / WIDTH, 1 - bottom / HEIGHT, (right - left) / WIDTH, (bottom - top) / HEIGHT])


def text_px(fig, x, y, s, **kw):
    kw.setdefault("va", "center")
    return fig.text(x / WIDTH, 1 - y / HEIGHT, s, **kw)


def on_edge(p):
    return p[0] <= -173 or p[0] >= 177.5 or abs(p[1]) >= 88


def fill_regions(ax, regions, color, t=0.33):
    # round only the corners of each region so the outline keeps its size,
    # corners sitting on the map edge stay sharp
    for region in regions:
        pts = np.array(region, dtype=float)
        verts, codes = [], []
        for i, p in enumerate(pts):
            a, b = pts[i - 1], pts[(i + 1) % len(pts)]
            if on_edge(p):
                verts.append(p)
                codes.append(Path.LINETO)
            else:
                verts += [p + t * (a - p), p, p + t * (b - p)]
                codes += [Path.LINETO, Path.CURVE3, Path.CURVE3]
        verts.append(verts[0])
        codes.append(Path.LINETO)
        codes[0] = Path.MOVETO
        ax.add_patch(PathPatch(Path(verts, codes), facecolor=color, edgecolor=color, lw=0.3, zorder=1))


def draw_coast(ax):
    for line in [COAST_AMERICAS, COAST_AFROEURASIA, COAST_ANTARCTICA] + COAST_ISLANDS:
        xs, ys = zip(*line)
        ax.plot(xs, ys, color="#222222", lw=0.6, zorder=3)


def setup_map(ax, xlim, ylim, hstyle):
    ax.set_xlim(*xlim)
    ax.set_ylim(*ylim)
    ax.set_xticks([-135, -90, -45, 0, 45, 90, 135, 180])
    ax.set_yticks([-60, -30, 0, 30, 60])
    ax.tick_params(length=0, labelbottom=False, labelleft=False)
    ax.grid(True, axis="x", color="#4a4a4a", lw=0.7, ls=(0, (4, 4)), zorder=2)
    ax.grid(True, axis="y", color="#4a4a4a", lw=0.8, ls=hstyle, zorder=2)
    ax.set_axisbelow(False)
    for sp in ax.spines.values():
        sp.set_visible(True)
        sp.set_color("#8a8a8a")
        sp.set_linewidth(1.0)


def colour_bar(fig, box, colors, ticks):
    ax = axes_px(fig, *box)
    cells = np.arange(len(colors), dtype=float).reshape(1, -1)
    sns.heatmap(cells, cmap=ListedColormap(colors), vmin=-0.5, vmax=len(colors) - 0.5, cbar=False,
                xticklabels=False, yticklabels=False, ax=ax)
    ax.set_xticks(np.arange(len(colors) + 1))
    ax.set_xticklabels(ticks, fontsize=26, rotation=0)
    ax.tick_params(axis="x", length=0, pad=4)
    for sp in ax.spines.values():
        sp.set_visible(True)
        sp.set_color("#777777")
        sp.set_linewidth(0.8)
    return ax


fig = plt.figure(figsize=(WIDTH / 100, HEIGHT / 100), dpi=100, facecolor="white")

# panel a
ax_a = axes_px(fig, 66, 131.5, 1127, 710)
setup_map(ax_a, (-173.2, 183.3), (-92, 92), (0, (3, 3)))
for regions, color in [(SW_L1, GREEN), (SW_HOLES, "#FFFFFF"), (SW_L2, LIME), (SW_L3, YELLOW), (SW_L4, GOLD), (SW_L5, ORANGE),
                       (SW_L6, TOMATO), (SW_L7, RED_FILL), (SW_L9, DARK), (SW_GREEN_TOP, GREEN)]:
    fill_regions(ax_a, regions, color)
draw_coast(ax_a)
text_px(fig, 73, 101, "a)", fontsize=35)
text_px(fig, 155, 94, r"Clear-sky shortwave radiation (W m$^{\text{-2}}$)", fontsize=42)
colour_bar(fig, (66, 754, 1127, 812), SW_COLORS, SW_TICKS)
text_px(fig, 1163, 834, r"W m$^{\text{-2}}$", fontsize=26)

# panel b
ax_b = axes_px(fig, 78, 993, 1140, 1572)
setup_map(ax_b, (-174.5, 182), (-91.8, 92), (0, (1.5, 2.5)))
ax_b.fill(*zip(*T_EXTENT), color=LIME, lw=0, zorder=0.5)
for regions, color in [([T_L3_NORTH, T_L3_AFRICA, T_L3_SOUTH_AMERICA], YELLOW), (T_L3_AUSTRALIA, YELLOW), (T_L2_ATLANTIC, LIME),
                       (T_L1_ATLANTIC, GREEN), (T_L4, GOLD), (T_L3_PATCHES, YELLOW), (T_L5, ORANGE), (T_L3_GREENLAND, YELLOW),
                       (T_L6, TOMATO), (T_L7, "#EE3F37"), (T_L9, DARK), (T_L1_SOUTH, GREEN), (T_L3_SOUTH, YELLOW), (T_L4_TOP, GOLD),
                       (T_L2_SOUTH, LIME), (T_L1_PATCH, GREEN), (T_WHITE, "#FFFFFF"), (T_TEAL, "#7CCBB9"), (T_CYAN, "#72CBDE")]:
    fill_regions(ax_b, regions, color)
draw_coast(ax_b)
text_px(fig, 91, 964, "b)", fontsize=35)
text_px(fig, 253, 953, r"Surface air temperature ($^{o}$C)", fontsize=42)
colour_bar(fig, (78, 1615, 1140, 1673), T_COLORS, T_TICKS)
text_px(fig, 1191, 1696, r"$^{o}$C", fontsize=26)

# panel c
ax_c = axes_px(fig, 144, 1851, 1204, 2430)
line_kw = dict(lw=6, ax=ax_c, estimator=None, solid_joinstyle="bevel", solid_capstyle="butt")
sns.lineplot(x=YEARS[50:], y=RED, color="#EF3339", zorder=2, **line_kw)
sns.lineplot(x=YEARS, y=BLUE, color="#465DA9", zorder=3, clip_on=False, **line_kw)
sns.lineplot(x=YEARS[:51], y=BLACK, color="#262626", zorder=4, clip_on=False, **line_kw)
ax_c.set_xlim(1950, 2100)
ax_c.set_ylim(-0.6, 2.0)
ax_c.set_xticks([1950, 2000, 2050, 2100])
ax_c.set_xticklabels(["1950", "2000", "2050", "2100"], family=["Liberation Sans"], fontsize=30)
ax_c.set_yticks([-0.5, 0.0, 0.5, 1.0, 1.5, 2.0])
ax_c.set_yticklabels(["-0.5", "0.0", "0.5", "1.0", "1.5", "2.0"], family=["Liberation Sans"], fontsize=30)
ax_c.set_yticks(np.arange(-0.5, 2.0, 0.1), minor=True)
ax_c.tick_params(axis="x", which="major", direction="in", top=True, bottom=True, length=9, width=3, pad=17)
ax_c.tick_params(axis="y", which="major", direction="in", left=True, right=True, length=15, width=3, pad=10)
ax_c.tick_params(axis="y", which="minor", direction="in", left=True, right=True, length=8, width=3)
top_label = ax_c.get_yticklabels()[-1]
top_label.set_transform(top_label.get_transform() + ScaledTranslation(0, -8 / 72, fig.dpi_scale_trans))
for sp in ax_c.spines.values():
    sp.set_visible(True)
    sp.set_color("#262626")
    sp.set_linewidth(3)
ax_c.set_xlabel("")
ax_c.set_ylabel("")
text_px(fig, 670, 2519, "Year", family=["Liberation Sans"], fontsize=30, ha="center")
text_px(fig, 22, 2145, "Surface air temperature (\u00b0C)", family=["Liberation Sans"], fontsize=35, rotation=90, ha="center")
text_px(fig, 157, 1818, "c)", family=["Liberation Sans"], fontsize=32)

fig.savefig("out.png", dpi=100, facecolor="white")
